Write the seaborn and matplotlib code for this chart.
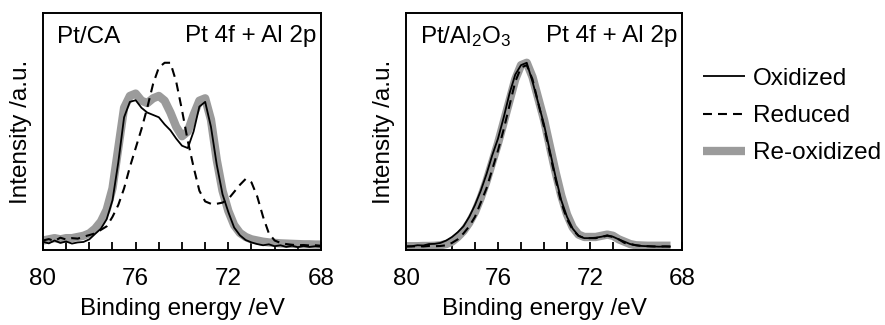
import matplotlib
matplotlib.use('Agg')
import matplotlib.pyplot as plt
from matplotlib.ticker import MultipleLocator
import seaborn as sns
import numpy as np
import pandas as pd

sns.set_theme(style='white')
plt.rcParams['font.family'] = ['Liberation Sans', 'DejaVu Sans']
plt.rcParams['mathtext.default'] = 'regular'
plt.rcParams['text.color'] = 'black'
plt.rcParams['axes.labelcolor'] = 'black'
plt.rcParams['xtick.color'] = 'black'

# ── DATA ──────────────────────────────────────────────
# panel 1: Pt/CA, energy grid 80 -> 68 eV, 0.25 eV step
energy_ca = [80.0, 79.75, 79.5, 79.25, 79.0, 78.75, 78.5, 78.25, 78.0, 77.75,
             77.5, 77.25, 77.0, 76.75, 76.5, 76.25, 76.0, 75.75, 75.5, 75.25,
             75.0, 74.75, 74.5, 74.25, 74.0, 73.75, 73.5, 73.25, 73.0, 72.75,
             72.5, 72.25, 72.0, 71.75, 71.5, 71.25, 71.0, 70.75, 70.5, 70.25,
             70.0, 69.75, 69.5, 69.25, 69.0, 68.75, 68.5, 68.25, 68.0]
oxidized_ca = [0.035, 0.028, 0.040, 0.030, 0.036, 0.027, 0.032, 0.034, 0.045, 0.068,
               0.090, 0.130, 0.210, 0.370, 0.560, 0.625, 0.632, 0.600, 0.580, 0.570,
               0.560, 0.530, 0.505, 0.470, 0.440, 0.430, 0.500, 0.605, 0.625, 0.520,
               0.360, 0.235, 0.160, 0.095, 0.062, 0.042, 0.032, 0.025, 0.020, 0.024,
               0.016, 0.020, 0.013, 0.018, 0.012, 0.017, 0.013, 0.016, 0.014]
reduced_ca = [0.040, 0.046, 0.038, 0.052, 0.044, 0.050, 0.048, 0.056, 0.063, 0.070,
              0.085, 0.100, 0.140, 0.190, 0.260, 0.350, 0.430, 0.510, 0.600, 0.700,
              0.770, 0.790, 0.790, 0.710, 0.590, 0.460, 0.350, 0.250, 0.205, 0.195,
              0.195, 0.200, 0.215, 0.245, 0.275, 0.300, 0.285, 0.225, 0.140, 0.070,
              0.040, 0.030, 0.025, 0.022, 0.020, 0.021, 0.019, 0.020, 0.018]
reoxidized_ca = [0.040, 0.045, 0.050, 0.045, 0.050, 0.050, 0.055, 0.060, 0.070, 0.090,
                 0.120, 0.170, 0.260, 0.430, 0.600, 0.650, 0.660, 0.630, 0.620, 0.640,
                 0.650, 0.630, 0.580, 0.520, 0.480, 0.500, 0.570, 0.630, 0.640, 0.550,
                 0.380, 0.250, 0.165, 0.105, 0.072, 0.055, 0.045, 0.040, 0.035, 0.032,
                 0.030, 0.028, 0.027, 0.026, 0.025, 0.024, 0.024, 0.023, 0.023]

# panel 2: Pt/Al2O3, energy grid 80 -> 68.5 eV
energy_al = [80.0, 79.75, 79.5, 79.25, 79.0, 78.75, 78.5, 78.25, 78.0, 77.75,
             77.5, 77.25, 77.0, 76.75, 76.5, 76.25, 76.0, 75.75, 75.5, 75.25,
             75.0, 74.75, 74.5, 74.25, 74.0, 73.75, 73.5, 73.25, 73.0, 72.75,
             72.5, 72.25, 72.0, 71.75, 71.5, 71.25, 71.0, 70.75, 70.5, 70.25,
             70.0, 69.75, 69.5, 69.25, 69.0, 68.75, 68.5]
oxidized_al = [0.015, 0.016, 0.020, 0.019, 0.025, 0.026, 0.030, 0.040, 0.055, 0.075,
               0.100, 0.140, 0.190, 0.250, 0.320, 0.400, 0.470, 0.560, 0.660, 0.740,
               0.780, 0.790, 0.710, 0.620, 0.530, 0.420, 0.310, 0.210, 0.140, 0.090,
               0.060, 0.050, 0.050, 0.052, 0.056, 0.062, 0.056, 0.045, 0.035, 0.025,
               0.020, 0.017, 0.016, 0.015, 0.014, 0.015, 0.014]
reduced_al = [0.015, 0.015, 0.016, 0.015, 0.017, 0.016, 0.017, 0.020, 0.030, 0.045,
              0.070, 0.100, 0.140, 0.200, 0.260, 0.340, 0.420, 0.510, 0.610, 0.710,
              0.770, 0.780, 0.720, 0.620, 0.520, 0.410, 0.300, 0.200, 0.130, 0.085,
              0.060, 0.050, 0.050, 0.050, 0.055, 0.060, 0.055, 0.045, 0.030, 0.025,
              0.020, 0.017, 0.016, 0.015, 0.015, 0.015, 0.015]
reoxidized_al = [0.016, 0.016, 0.016, 0.017, 0.017, 0.018, 0.020, 0.025, 0.035, 0.055,
                 0.080, 0.115, 0.160, 0.220, 0.290, 0.370, 0.450, 0.540, 0.630, 0.720,
                 0.780, 0.790, 0.730, 0.640, 0.550, 0.440, 0.330, 0.230, 0.150, 0.095,
                 0.065, 0.055, 0.055, 0.055, 0.060, 0.065, 0.060, 0.045, 0.035, 0.025,
                 0.020, 0.019, 0.018, 0.018, 0.018, 0.018, 0.018]

states = ['Oxidized', 'Reduced', 'Re-oxidized']
xticks = [80, 76, 72, 68]

# ── STYLE ─────────────────────────────────────────────
FS = 17.5
GRAY = '#9b9b9b'
line_style = {
    'Re-oxidized': dict(color=GRAY, lw=6.0, ls='-', zorder=1),
    'Oxidized':    dict(color='black', lw=1.3, ls='-', zorder=2),
    'Reduced':     dict(color='black', lw=1.5, ls=(0, (4.3, 2.9)), zorder=3),
}

def long_df(energy, ox, red, reox):
    parts = []
    for name, vals in zip(states, [ox, red, reox]):
        parts.append(pd.DataFrame({'energy': energy, 'intensity': vals, 'state': name}))
    return pd.concat(parts, ignore_index=True)

df_ca = long_df(energy_ca, oxidized_ca, reduced_ca, reoxidized_ca)
df_al = long_df(energy_al, oxidized_al, reduced_al, reoxidized_al)

fig = plt.figure(figsize=(8.85, 3.25), dpi=100)
ax1 = fig.add_axes([43 / 885, 1 - 250 / 325, 278 / 885, 237 / 325])
ax2 = fig.add_axes([406 / 885, 1 - 250 / 325, 276 / 885, 237 / 325])

def draw(ax, df, title):
    handles = {}
    for name in ['Re-oxidized', 'Oxidized', 'Reduced']:
        st = line_style[name]
        sub = df[df['state'] == name]
        sns.lineplot(data=sub, x='energy', y='intensity', ax=ax, sort=False,
                     estimator=None, color=st['color'], lw=st['lw'],
                     linestyle=st['ls'], zorder=st['zorder'],
                     solid_capstyle='butt', dash_capstyle='butt')
        handles[name] = ax.lines[-1]
    ax.set_xlim(80, 68)
    ax.set_ylim(0, 1)
    ax.set_xticks(xticks)
    ax.set_xticklabels([str(t) for t in xticks], fontsize=FS)
    ax.xaxis.set_minor_locator(MultipleLocator(1))
    ax.tick_params(axis='x', which='both', direction='in', length=5.5, width=1.3,
                   bottom=True, pad=13, colors='black')
    ax.set_yticks([])
    for sp in ax.spines.values():
        sp.set_color('black')
        sp.set_linewidth(1.4)
    ax.set_xlabel('Binding energy /eV', fontsize=FS, labelpad=6)
    ax.set_ylabel('Intensity /a.u.', fontsize=FS, labelpad=8)
    ax.text(0.05, 0.90, title, transform=ax.transAxes, fontsize=FS,
            ha='left', va='center')
    ax.text(0.982, 0.905, 'Pt 4f + Al 2p', transform=ax.transAxes, fontsize=FS,
            ha='right', va='center')
    return handles

h = draw(ax1, df_ca, 'Pt/CA')
draw(ax2, df_al, 'Pt/Al$_2$O$_3$')

fig.legend([h[s] for s in states], states, loc='center left',
           bbox_to_anchor=(698 / 885, 1 - 116 / 325), frameon=False,
           fontsize=FS, handlelength=1.72, handletextpad=0.33,
           labelspacing=0.62, borderpad=0.2, borderaxespad=0)

fig.savefig('out.png', dpi=100)
